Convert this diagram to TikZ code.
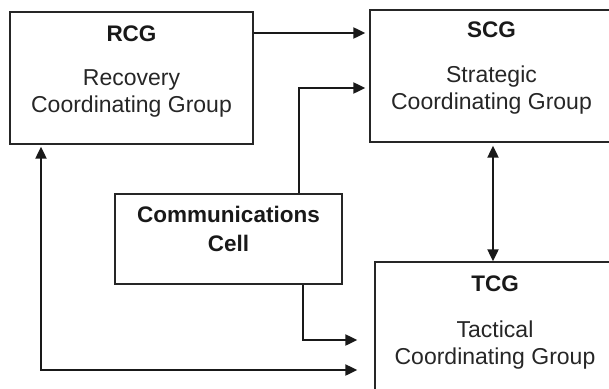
\documentclass[tikz,border=0pt]{standalone}
\usepackage{fontspec}
\setmainfont{Liberation Sans}
\usetikzlibrary{arrows.meta,positioning,calc}

\begin{document}
\begin{tikzpicture}[
  x=1pt, y=-1pt,
  font=\fontsize{23}{27}\selectfont,
  box/.style={draw=black!85, line width=1.3pt, minimum width=243pt, minimum height=132pt, inner sep=0pt},
  title/.style={font=\fontsize{22.5}{29}\selectfont\bfseries, text=black!90, inner sep=0pt, anchor=base},
  sub/.style={align=center, text=black!85, inner sep=0pt, anchor=base},
  arrow/.style={-{Triangle[length=12pt,width=11pt]}, line width=2pt, black!90}
]
\useasboundingbox (0,0) rectangle (609,388);
% boxes
\node[box] (rcg) at (131.5,78) {};
\node[box] (scg) at (491.5,76) {};
\node[box, minimum width=227pt, minimum height=90pt] (comm) at (228.5,239) {};
\node[box, minimum width=240pt] (tcg) at (495,328) {};
% texts
\node[title] (rcgt) at ([yshift=-30pt]rcg.north) {RCG};
\node[sub] (rcgs) at ([yshift=-101pt]rcg.north) {Recovery\\Coordinating Group};
\node[title] (scgt) at ([yshift=-28pt]scg.north) {SCG};
\node[sub] (scgs) at ([yshift=-100pt]scg.north) {Strategic\\Coordinating Group};
\node[title, align=center] (commt) at ([yshift=-58pt]comm.north) {Communications\\Cell};
\node[title] (tcgt) at ([yshift=-30pt]tcg.north) {TCG};
\node[sub] (tcgs) at ([yshift=-103pt]tcg.north) {Tactical\\Coordinating Group};
% connectors
\draw[arrow, shorten >=4pt] (rcg.east |- 0,33) -- (scg.west |- 0,33);
\draw[arrow, shorten >=4pt] (comm.north -| 299,0) |- (scg.west |- 0,88);
\draw[arrow, {Triangle[length=12pt,width=11pt]}-{Triangle[length=12pt,width=11pt]}, shorten <=3pt] (scg.south -| 493,0) -- (tcg.north -| 493,0);
\draw[arrow, shorten >=17pt] (comm.south -| 303,0) |- (tcg.west |- 0,340);
\draw[arrow, {Triangle[length=12pt,width=11pt]}-{Triangle[length=12pt,width=11pt]}, shorten <=2pt, shorten >=17pt] (rcg.south -| 41,0) |- (tcg.west |- 0,370);
\end{tikzpicture}
\end{document}
